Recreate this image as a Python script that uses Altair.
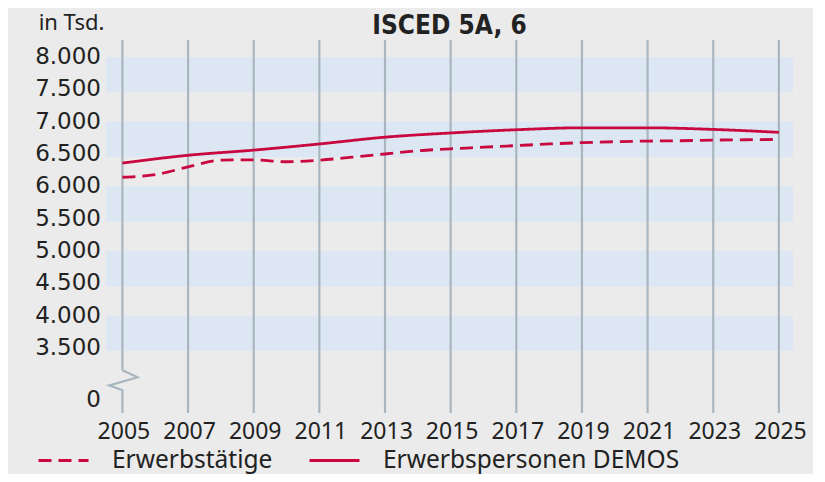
import altair as alt
import pandas as pd

# --- data -------------------------------------------------------------
years = list(range(2005, 2026))
erwerbstaetige = [6140, 6180, 6300, 6405, 6410, 6380, 6405, 6450, 6500, 6550, 6580,
                  6605, 6630, 6655, 6675, 6690, 6700, 6705, 6715, 6720, 6725]
demos_years = [2005, 2007, 2009, 2011, 2013, 2015, 2017, 2019, 2021, 2023, 2025]
demos = [6360, 6480, 6560, 6655, 6760, 6825, 6875, 6905, 6905, 6880, 6835]

band_low = [7500, 6500, 5500, 4500, 3500]
band_high = [8000, 7000, 6000, 5000, 4000]
grid_years = [2007, 2009, 2011, 2013, 2015, 2017, 2019, 2021, 2023, 2025]
tick_years = [2005, 2007, 2009, 2011, 2013, 2015, 2017, 2019, 2021, 2023, 2025]
zero_pos = 2695  # where "0" sits on the broken axis
y_ticks = [zero_pos, 3500, 4000, 4500, 5000, 5500, 6000, 6500, 7000, 7500, 8000]
y_labels = ["0", "3.500", "4.000", "4.500", "5.000", "5.500", "6.000", "6.500",
            "7.000", "7.500", "8.000"]
break_x = [2005, 2005.46, 2004.6, 2005, 2005]
break_y = [3155, 3046, 2922, 2845, 2494]

S1 = "Erwerbstätige"
S2 = "Erwerbspersonen DEMOS"

x_dom = [2004.5, 2025.43]
y_dom = [2494, 8263]
RED = "#c8083f"
GRID = "#a9b6bf"
FONT = "Noto Sans"
TXT = "#222222"

lines = pd.concat([
    pd.DataFrame({"year": years, "value": erwerbstaetige, "serie": S1}),
    pd.DataFrame({"year": demos_years, "value": demos, "serie": S2}),
])
bands = pd.DataFrame({"lo": band_low, "hi": band_high, "x0": x_dom[0], "x1": x_dom[1]})
grid = pd.DataFrame({"year": grid_years, "top": y_dom[1], "bot": y_dom[0]})
grid05 = pd.DataFrame({"year": [2005], "top": [y_dom[1]], "bot": [break_y[0]]})
brk = pd.DataFrame({"x": break_x, "y": break_y, "o": list(range(len(break_x)))})
ylab = pd.DataFrame({"value": y_ticks, "label": y_labels})

xs = alt.Scale(domain=x_dom, nice=False, zero=False)
ys = alt.Scale(domain=y_dom, nice=False, zero=False)

x_axis = alt.Axis(values=tick_years, format="d", grid=False, ticks=False, domain=False,
                  labelFont=FONT, labelFontSize=23, labelColor=TXT, labelPadding=7,
                  labelOverlap=False, labelOffset=1)
y_axis = alt.Axis(values=y_ticks, grid=False, ticks=False, domain=False, labels=False,
                  titleAngle=0, titleAlign="right", titleBaseline="alphabetic",
                  titleX=-2, titleY=-11, titleFont=FONT, titleFontSize=22,
                  titleFontWeight="normal", titleColor=TXT)

band_layer = alt.Chart(bands).mark_rect(color="#dde7f3", yOffset=3).encode(
    x=alt.X("x0:Q", scale=xs, axis=x_axis, title=None), x2="x1:Q",
    y=alt.Y("lo:Q", scale=ys, axis=y_axis, title="in Tsd."), y2="hi:Q")

grid_layer = alt.Chart(grid).mark_rule(color=GRID, strokeWidth=2.2).encode(
    x=alt.X("year:Q", scale=xs), y=alt.Y("top:Q", scale=ys), y2="bot:Q")
grid05_layer = alt.Chart(grid05).mark_rule(color=GRID, strokeWidth=2.2).encode(
    x=alt.X("year:Q", scale=xs), y=alt.Y("top:Q", scale=ys), y2="bot:Q")
break_layer = alt.Chart(brk).mark_line(color=GRID, strokeWidth=2.2).encode(
    x=alt.X("x:Q", scale=xs), y=alt.Y("y:Q", scale=ys), order="o:Q")

ylab_layer = alt.Chart(ylab).mark_text(
    align="right", baseline="middle", font="DejaVu Sans", fontSize=23, color=TXT, dx=-5
).encode(x=alt.value(0), y=alt.Y("value:Q", scale=ys), text="label:N")

line_layer = alt.Chart(lines).mark_line(color=RED, strokeWidth=2.8, interpolate="monotone").encode(
    x=alt.X("year:Q", scale=xs),
    y=alt.Y("value:Q", scale=ys),
    strokeDash=alt.StrokeDash("serie:N",
                              scale=alt.Scale(domain=[S1, S2], range=[[13, 7], [1, 0]]),
                              legend=alt.Legend(title=None, orient="none", direction="horizontal",
                                                legendX=-69, legendY=394,
                                                symbolType="stroke", symbolSize=2500,
                                                symbolStrokeColor=RED, symbolStrokeWidth=3,
                                                labelFont=FONT, labelFontSize=24.5, labelColor=TXT,
                                                labelOffset=22, columnPadding=30,
                                                labelLimit=400)))

chart = alt.layer(band_layer, grid_layer, grid05_layer, break_layer, ylab_layer, line_layer).properties(
    width=687, height=373,
    title=alt.Title("ISCED 5A, 6", font="DejaVu Sans Condensed", fontSize=26, fontWeight="bold",
                    color=TXT, anchor="middle", offset=8, frame="group", dy=36),
    padding={"left": 98, "top": 32, "right": 20, "bottom": 61},
    autosize=alt.AutoSizeParams(type="none"),
    background="#ebebeb",
).configure_view(stroke=None)

chart.save("out.html", embed_options={"renderer": "svg", "actions": False})
